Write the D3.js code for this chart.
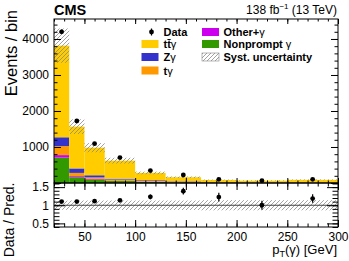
<!DOCTYPE html>
<html>
<head>
<meta charset="utf-8">
<script src="https://cdn.jsdelivr.net/npm/d3@7"></script>
<style>
body { margin: 0; background: #fff; }
svg { font-family: "Liberation Sans", Arial, sans-serif; }
</style>
</head>
<body>
<svg id="chart" width="349" height="261"></svg>
<script>
// photon pT bins and stacked predictions
var edges = [20, 35, 50, 70, 100, 130, 165, 200, 250, 300];
var nonprompt = [705, 160, 95, 55, 30, 18, 8, 6, 7];
var otherG = [70, 30, 20, 10, 8, 6, 3, 2, 3];
var tG = [250, 90, 40, 30, 20, 12, 6, 5, 6];
var zG = [245, 125, 60, 25, 20, 12, 6, 4, 5];
var ttG = [2545, 1160, 766, 500, 202, 112, 61, 47, 66];
var dataCounts = [4200, 1722, 1092, 705, 345, 222, 103, 64, 103];
var systRel = [0.125, 0.13, 0.13, 0.13, 0.13, 0.13, 0.14, 0.14, 0.14];

var keys = ['nonprompt', 'otherG', 'tG', 'zG', 'ttG'];
var colors = {
    nonprompt: '#339900',
    otherG: '#cc00ee',
    tG: '#ff9900',
    zG: '#3333cc',
    ttG: '#ffcc00'
};

var svg = d3.select('svg#chart');

var x = d3.scaleLinear().domain([20, 300]).range([54, 338]);
var y = d3.scaleLinear().domain([0, 4555]).range([183, 19]);
var r = d3.scaleLinear().domain([0.4, 1.6]).range([227, 183.5]);

var bins = edges.slice(0, -1).map(function (e, i) {
    var total = nonprompt[i] + otherG[i] + tG[i] + zG[i] + ttG[i];
    return {
        x0: e, x1: edges[i + 1], xc: (e + edges[i + 1]) / 2,
        nonprompt: nonprompt[i], otherG: otherG[i], tG: tG[i], zG: zG[i], ttG: ttG[i],
        total: total, data: dataCounts[i], unc: systRel[i]
    };
});

var defs = svg.append('defs');
defs.append('pattern')
    .attr('id', 'hatch')
    .attr('patternUnits', 'userSpaceOnUse')
    .attr('width', 4).attr('height', 4)
    .append('path')
    .attr('d', 'M-1,1 l2,-2 M0,4 l4,-4 M3,5 l2,-2')
    .attr('stroke', '#8a8a8a')
    .attr('stroke-width', 0.8);

// stacked histogram
var series = d3.stack().keys(keys)(bins);
var stackG = svg.append('g').attr('class', 'stack');
series.forEach(function (s) {
    stackG.selectAll(null)
        .data(s)
        .enter().append('rect')
        .attr('x', function (d) { return x(d.data.x0); })
        .attr('width', function (d) { return x(d.data.x1) - x(d.data.x0); })
        .attr('y', function (d) { return y(d[1]); })
        .attr('height', function (d) { return y(d[0]) - y(d[1]); })
        .attr('fill', colors[s.key]);
});

// systematic band
svg.append('g').selectAll('rect')
    .data(bins)
    .enter().append('rect')
    .attr('x', function (d) { return x(d.x0); })
    .attr('width', function (d) { return x(d.x1) - x(d.x0); })
    .attr('y', function (d) { return y(d.total * (1 + d.unc)); })
    .attr('height', function (d) { return y(d.total * (1 - d.unc)) - y(d.total * (1 + d.unc)); })
    .attr('fill', 'url(#hatch)');

// data points
var pts = svg.append('g').attr('class', 'data');
pts.selectAll('line')
    .data(bins)
    .enter().append('line')
    .attr('x1', function (d) { return x(d.xc); })
    .attr('x2', function (d) { return x(d.xc); })
    .attr('y1', function (d) { return y(d.data + Math.sqrt(d.data)); })
    .attr('y2', function (d) { return y(d.data - Math.sqrt(d.data)); })
    .attr('stroke', '#000').attr('stroke-width', 1.2);
pts.selectAll('circle')
    .data(bins)
    .enter().append('circle')
    .attr('cx', function (d) { return x(d.xc); })
    .attr('cy', function (d) { return y(d.data); })
    .attr('r', 2.4)
    .attr('fill', '#000');

// ratio panel
svg.append('g').selectAll('rect')
    .data(bins)
    .enter().append('rect')
    .attr('x', function (d) { return x(d.x0); })
    .attr('width', function (d) { return x(d.x1) - x(d.x0); })
    .attr('y', function (d) { return r(1 + d.unc); })
    .attr('height', function (d) { return r(1 - d.unc) - r(1 + d.unc); })
    .attr('fill', 'url(#hatch)');

svg.append('line')
    .attr('x1', x(20)).attr('x2', x(300))
    .attr('y1', r(1)).attr('y2', r(1))
    .attr('stroke', '#444').attr('stroke-width', 1);

var rpts = svg.append('g').attr('class', 'ratio');
rpts.selectAll('line')
    .data(bins)
    .enter().append('line')
    .attr('x1', function (d) { return x(d.xc); })
    .attr('x2', function (d) { return x(d.xc); })
    .attr('y1', function (d) { return r((d.data + Math.sqrt(d.data)) / d.total); })
    .attr('y2', function (d) { return r((d.data - Math.sqrt(d.data)) / d.total); })
    .attr('stroke', '#000').attr('stroke-width', 1.2);
rpts.selectAll('circle')
    .data(bins)
    .enter().append('circle')
    .attr('cx', function (d) { return x(d.xc); })
    .attr('cy', function (d) { return r(d.data / d.total); })
    .attr('r', 2.4)
    .attr('fill', '#000');

// frames
svg.append('rect').attr('x', 54).attr('y', 19).attr('width', 284).attr('height', 164)
    .attr('fill', 'none').attr('stroke', '#000');
svg.append('rect').attr('x', 54).attr('y', 183).attr('width', 284).attr('height', 44)
    .attr('fill', 'none').attr('stroke', '#000');

// ticks (pointing inwards, ROOT style)
function ticks(axis, scale, vals, size, tx, ty, fmt) {
    var a = axis(scale).tickValues(vals).tickSize(-size).tickSizeOuter(0).tickPadding(5);
    a.tickFormat(fmt || '');
    var g = svg.append('g')
        .attr('transform', 'translate(' + tx + ',' + ty + ')')
        .call(a);
    g.select('.domain').remove();
    g.selectAll('text').attr('font-size', 12).attr('fill', '#000')
        .attr('font-family', '"Liberation Sans", Arial, sans-serif');
    return g;
}

var xMajor = d3.range(50, 301, 50);
var xMinor = d3.range(20, 301, 10);
var yMajor = d3.range(0, 4001, 1000);
var yMinor = d3.range(0, 4555, 200);
var rMajor = [0.5, 1, 1.5];
var rMinor = d3.range(4, 17).map(function (v) { return v / 10; });

// main panel
ticks(d3.axisBottom, x, xMajor, 5, 0, 183);
ticks(d3.axisBottom, x, xMinor, 2.5, 0, 183);
ticks(d3.axisTop, x, xMajor, 5, 0, 19);
ticks(d3.axisTop, x, xMinor, 2.5, 0, 19);
ticks(d3.axisLeft, y, yMajor, 7, 54, 0, function (d) { return d === 0 ? '' : d; });
ticks(d3.axisLeft, y, yMinor, 3.5, 54, 0);
ticks(d3.axisRight, y, yMajor, 7, 338, 0);
ticks(d3.axisRight, y, yMinor, 3.5, 338, 0);

// ratio panel
ticks(d3.axisBottom, x, xMajor, 7, 0, 227, function (d) { return d; });
ticks(d3.axisBottom, x, xMinor, 3.5, 0, 227);
ticks(d3.axisTop, x, xMajor, 7, 0, 183);
ticks(d3.axisTop, x, xMinor, 3.5, 0, 183);
ticks(d3.axisLeft, r, rMajor, 11, 54, 0, function (d) { return String(d); });
ticks(d3.axisLeft, r, rMinor, 5.5, 54, 0);
ticks(d3.axisRight, r, rMajor, 11, 338, 0);
ticks(d3.axisRight, r, rMinor, 5.5, 338, 0);

// titles
svg.append('text')
    .attr('transform', 'translate(16.5,10) rotate(-90)')
    .attr('text-anchor', 'end')
    .attr('font-size', 16.5)
    .text('Events / bin');

svg.append('text')
    .attr('transform', 'translate(14,220) rotate(-90)')
    .attr('text-anchor', 'middle')
    .attr('font-size', 14)
    .text('Data / Pred.');

var xt = svg.append('text')
    .attr('x', 337).attr('y', 254)
    .attr('text-anchor', 'end')
    .attr('font-size', 13);
xt.append('tspan').text('p');
xt.append('tspan').attr('font-size', 9).attr('dy', 3).text('T');
xt.append('tspan').attr('dy', -3).text('(γ) [GeV]');

svg.append('text')
    .attr('x', 54).attr('y', 15)
    .attr('font-size', 14.5)
    .attr('font-weight', 'bold')
    .text('CMS');

var lumi = svg.append('text')
    .attr('x', 337).attr('y', 14)
    .attr('text-anchor', 'end')
    .attr('font-size', 12);
lumi.append('tspan').text('138 fb');
lumi.append('tspan').attr('font-size', 8).attr('dy', -5).text('\u22121');
lumi.append('tspan').attr('dy', 5).text(' (13 TeV)');

// legend
var legend = [
    { label: 'Data', type: 'data', col: 0, row: 0 },
    { label: 'tt\u0304', gamma: true, key: 'ttG', col: 0, row: 1 },
    { label: 'Z', gamma: true, key: 'zG', col: 0, row: 2 },
    { label: 't', gamma: true, key: 'tG', col: 0, row: 3 },
    { label: 'Other+', gamma: true, key: 'otherG', col: 1, row: 0 },
    { label: 'Nonprompt ', gamma: true, key: 'nonprompt', col: 1, row: 1 },
    { label: 'Syst. uncertainty', type: 'band', col: 1, row: 2 }
];
var colX = [141.5, 202];
var rowY = [32, 44, 57, 70.5];

var lg = svg.append('g').attr('class', 'legend');
legend.forEach(function (d) {
    var bx = colX[d.col], cy = rowY[d.row];
    if (d.type === 'data') {
        lg.append('circle').attr('cx', bx + 10).attr('cy', cy).attr('r', 2.4).attr('fill', '#000');
        lg.append('line').attr('x1', bx + 10).attr('x2', bx + 10)
            .attr('y1', cy - 3.5).attr('y2', cy + 3.5).attr('stroke', '#000').attr('stroke-width', 1.2);
    } else {
        lg.append('rect')
            .attr('x', bx).attr('y', cy - 4)
            .attr('width', 17).attr('height', 8)
            .attr('fill', d.type === 'band' ? 'url(#hatch)' : colors[d.key])
            .attr('stroke', d.type === 'band' ? '#888' : 'none')
            .attr('stroke-width', 0.6);
    }
    var t = lg.append('text')
        .attr('x', bx + (d.col === 0 ? 22 : 21.5)).attr('y', cy + 4)
        .attr('font-size', 11)
        .attr('font-weight', 'bold')
        .text(d.label);
    if (d.gamma) t.append('tspan').attr('font-weight', 'normal').text('γ');
});
</script>
</body>
</html>
